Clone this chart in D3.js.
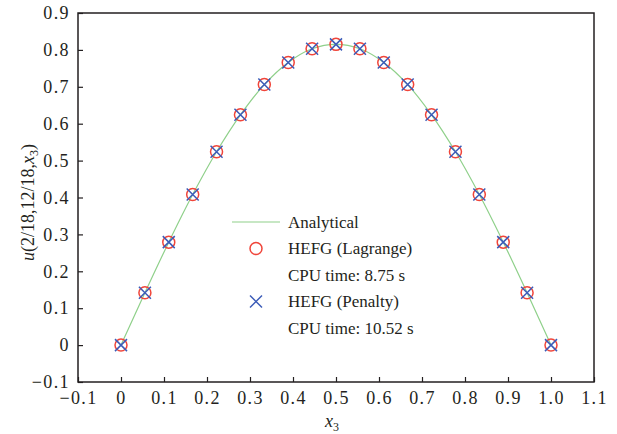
<!DOCTYPE html>
<html>
<head>
<meta charset="utf-8">
<script src="https://cdn.jsdelivr.net/npm/d3@7"></script>
<style>
  body { margin: 0; background: #fff; }
</style>
</head>
<body>
<script>
const xs = [0, 0.0556, 0.1111, 0.1667, 0.2222, 0.2778, 0.3333, 0.3889, 0.4444, 0.5,
  0.5556, 0.6111, 0.6667, 0.7222, 0.7778, 0.8333, 0.8889, 0.9444, 1];
const analytical = [0, 0.142, 0.279, 0.408, 0.524, 0.624, 0.706, 0.766, 0.803, 0.815,
  0.803, 0.766, 0.706, 0.624, 0.524, 0.408, 0.279, 0.142, 0];
const lagrange = [0, 0.142, 0.279, 0.408, 0.524, 0.624, 0.706, 0.766, 0.803, 0.815,
  0.803, 0.766, 0.706, 0.624, 0.524, 0.408, 0.279, 0.142, 0];
const penalty = [0, 0.142, 0.279, 0.408, 0.524, 0.624, 0.706, 0.766, 0.803, 0.815,
  0.803, 0.766, 0.706, 0.624, 0.524, 0.408, 0.279, 0.142, 0];
const xTicks = [-0.1, 0, 0.1, 0.2, 0.3, 0.4, 0.5, 0.6, 0.7, 0.8, 0.9, 1.0, 1.1];
const xTickLabels = ['\u22120.1', '0', '0.1', '0.2', '0.3', '0.4', '0.5', '0.6', '0.7', '0.8', '0.9', '1.0', '1.1'];
const yTicks = [-0.1, 0, 0.1, 0.2, 0.3, 0.4, 0.5, 0.6, 0.7, 0.8, 0.9];
const yTickLabels = ['\u22120.1', '0', '0.1', '0.2', '0.3', '0.4', '0.5', '0.6', '0.7', '0.8', '0.9'];
const legendLabels = ['Analytical', 'HEFG (Lagrange)', 'CPU time: 8.75 s', 'HEFG (Penalty)', 'CPU time: 10.52 s'];

const w = 617, h = 434;
const m = { left: 78, right: 23, top: 13, bottom: 52 };
const font = 'Liberation Serif';
const ink = '#231f20';

const svg = d3.select('body').append('svg')
  .attr('width', w)
  .attr('height', h);

const x = d3.scaleLinear().domain([-0.1, 1.1]).range([m.left, w - m.right]);
const y = d3.scaleLinear().domain([-0.1, 0.9]).range([h - m.bottom, m.top]);

// analytical curve
svg.append('path')
  .datum(xs.map((d, i) => [d, analytical[i]]))
  .attr('fill', 'none')
  .attr('stroke', '#8fd08a')
  .attr('stroke-width', 1.2)
  .attr('d', d3.line().x(d => x(d[0])).y(d => y(d[1])).curve(d3.curveCatmullRom));

const red = '#f0453a', blue = '#3c5cb8';

svg.append('g').selectAll('circle')
  .data(xs.map((d, i) => [d, lagrange[i]]))
  .join('circle')
  .attr('cx', d => x(d[0])).attr('cy', d => y(d[1]))
  .attr('r', 6)
  .attr('fill', 'none').attr('stroke', red).attr('stroke-width', 1.5);

const cross = 6;
function crossPath(cx, cy) {
  return `M${cx - cross},${cy - cross}L${cx + cross},${cy + cross}M${cx - cross},${cy + cross}L${cx + cross},${cy - cross}`;
}
svg.append('g').selectAll('path')
  .data(xs.map((d, i) => [d, penalty[i]]))
  .join('path')
  .attr('d', d => crossPath(x(d[0]), y(d[1])))
  .attr('fill', 'none').attr('stroke', blue).attr('stroke-width', 1.5);

// frame
svg.append('rect')
  .attr('x', x(-0.1)).attr('y', y(0.9))
  .attr('width', x(1.1) - x(-0.1)).attr('height', y(-0.1) - y(0.9))
  .attr('fill', 'none').attr('stroke', ink).attr('stroke-width', 1.5);

const xAxis = svg.append('g')
  .attr('transform', `translate(0,${y(-0.1)})`)
  .call(d3.axisBottom(x).tickValues(xTicks).tickSizeInner(-5).tickSizeOuter(0)
    .tickPadding(9).tickFormat((d, i) => xTickLabels[i]));
xAxis.select('.domain').remove();
xAxis.selectAll('line').attr('stroke', ink).attr('stroke-width', 1.2);
xAxis.selectAll('text').attr('font-size', 18).attr('fill', ink)
  .attr('letter-spacing', 1.4);

const yAxis = svg.append('g')
  .attr('transform', `translate(${x(-0.1)},0)`)
  .call(d3.axisLeft(y).tickValues(yTicks).tickSizeInner(-5).tickSizeOuter(0)
    .tickPadding(8).tickFormat((d, i) => yTickLabels[i]));
yAxis.select('.domain').remove();
yAxis.selectAll('line').attr('stroke', ink).attr('stroke-width', 1.2);
yAxis.selectAll('text').attr('font-size', 18).attr('fill', ink)
  .attr('letter-spacing', 1.4);

// legend
const lg = svg.append('g');
const lx = 232, ly = 222, row = 26.5;
lg.append('line').attr('x1', lx).attr('x2', lx + 48).attr('y1', ly).attr('y2', ly)
  .attr('stroke', '#8fd08a').attr('stroke-width', 1.2);
lg.append('circle').attr('cx', lx + 24).attr('cy', ly + row).attr('r', 6)
  .attr('fill', 'none').attr('stroke', red).attr('stroke-width', 1.5);
lg.append('path').attr('d', crossPath(lx + 24, ly + row * 3))
  .attr('fill', 'none').attr('stroke', blue).attr('stroke-width', 1.5);
lg.selectAll('text')
  .data(legendLabels)
  .join('text')
  .attr('x', lx + 56)
  .attr('y', (d, i) => ly + i * row)
  .attr('dy', '0.33em')
  .attr('font-size', 17)
  .attr('fill', ink)
  .text(d => d);

// axis titles
const xt = svg.append('text')
  .attr('x', (x(-0.1) + x(1.1)) / 2 - 4).attr('y', h - 7)
  .attr('fill', ink)
  .attr('text-anchor', 'middle').attr('font-size', 18).attr('font-style', 'italic');
xt.append('tspan').text('x');
xt.append('tspan').attr('font-size', 12).attr('dy', 4).attr('font-style', 'normal').text('3');

const yt = svg.append('text')
  .attr('transform', `translate(34,${(y(-0.1) + y(0.9)) / 2 + 5}) rotate(-90)`)
  .attr('fill', ink)
  .attr('text-anchor', 'middle').attr('font-size', 18);
yt.append('tspan').attr('font-style', 'italic').text('u');
yt.append('tspan').text('(2/18,12/18,');
yt.append('tspan').attr('font-style', 'italic').text('x');
yt.append('tspan').attr('font-size', 12).attr('dy', 4).text('3');
yt.append('tspan').attr('dy', -4).text(')');

// every text in the serif face
svg.selectAll('text').style('font-family', font).attr('font-family', font);
</script>
</body>
</html>
